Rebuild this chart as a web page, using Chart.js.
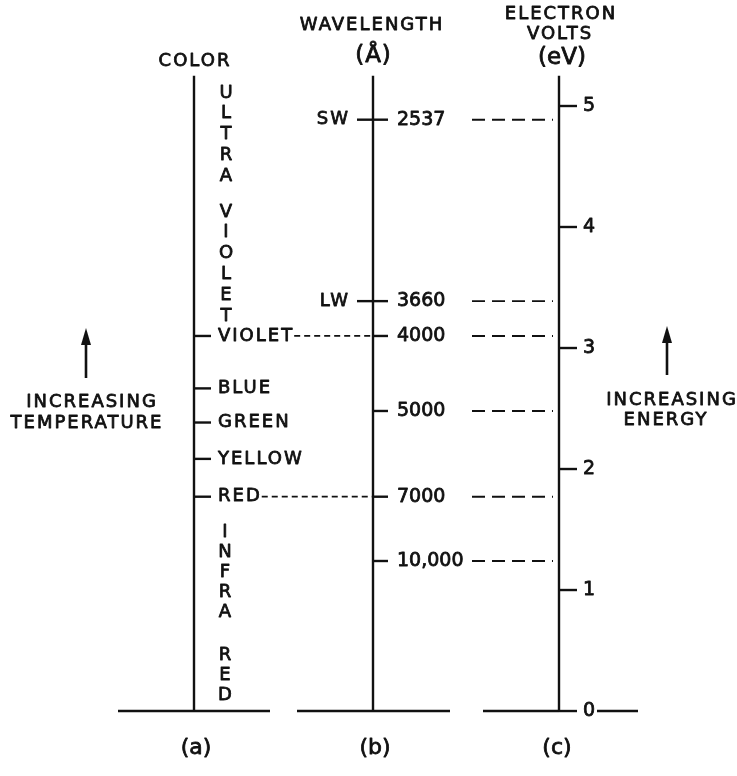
<!DOCTYPE html>
<html>
<head>
<meta charset="utf-8">
<script src="https://cdn.jsdelivr.net/npm/chart.js@4"></script>
<style>
  body { margin: 0; background: #fff; }
  #wrap { width: 737px; height: 776px; position: relative; }
</style>
</head>
<body>
<div id="wrap"><canvas id="spectrumChart"></canvas></div>
<script>
// values
const evTicks = [0, 1, 2, 3, 4, 5];
const wavelengths = [2537, 3660, 4000, 5000, 7000, 10000];
const wavelengthLabels = ["2537", "3660", "4000", "5000", "7000", "10,000"];
const lampNames = ["SW", "LW"];
const lampWavelengths = [2537, 3660];
const colorNames = ["VIOLET", "BLUE", "GREEN", "YELLOW", "RED"];
const colorWavelengths = [4000, 4650, 5200, 5950, 7000];
const linkedColors = ["VIOLET", "RED"];

const HC = 12398; // eV * Angstrom
const toEv = (lambda) => HC / lambda;

// layout (x in page pixels, y in eV)
const COL = { color: 194, wave: 373, ev: 559 };
const AXIS_TOP = 5.25;
const INK = "#111";
const FONT = "DejaVu Sans, Arial, sans-serif";
const labelFont = "18px " + FONT;

function seg(x1, y1, x2, y2, width = 2.4, dash = []) {
  return {
    data: [{ x: x1, y: y1 }, { x: x2, y: y2 }],
    showLine: true,
    borderColor: INK,
    borderWidth: width,
    borderDash: dash,
    pointRadius: 0,
    clip: false,
  };
}

// measure label ends so the fine dashes start right after the word
const measureCtx = document.createElement("canvas").getContext("2d");
measureCtx.font = labelFont;
measureCtx.letterSpacing = "2px";

const datasets = [];

// the three scales
datasets.push(seg(COL.color, 0, COL.color, AXIS_TOP));
datasets.push(seg(COL.wave, 0, COL.wave, AXIS_TOP));
datasets.push(seg(COL.ev, 0, COL.ev, AXIS_TOP));

// base lines
datasets.push(seg(118, 0, 270, 0));
datasets.push(seg(297, 0, 450, 0));
datasets.push(seg(483, 0, COL.ev, 0));
datasets.push(seg(597, 0, 638, 0));

// eV ticks
evTicks.forEach((v) => datasets.push(seg(COL.ev, v, COL.ev + 18, v)));

// wavelength ticks + dashed links to the eV scale
wavelengths.forEach((w) => {
  datasets.push(seg(COL.wave, toEv(w), COL.wave + 15, toEv(w)));
  datasets.push(seg(472, toEv(w), COL.ev - 6, toEv(w), 1.9, [13, 7]));
});
lampWavelengths.forEach((w) => {
  datasets.push(seg(COL.wave - 16, toEv(w), COL.wave, toEv(w)));
});

// color ticks
colorNames.forEach((name, i) => {
  const e = toEv(colorWavelengths[i]);
  datasets.push(seg(COL.color, e, COL.color + 17, e));
  if (linkedColors.includes(name)) {
    const end = COL.color + 24 + measureCtx.measureText(name).width;
    datasets.push(seg(end, e, COL.wave - 1, e, 1.7, [6, 4]));
  }
});

function text(ctx, str, x, y, opts = {}) {
  ctx.save();
  ctx.font = (opts.size || 18) + "px " + FONT;
  ctx.letterSpacing = (opts.spacing ?? 2) + "px";
  ctx.fillStyle = INK;
  ctx.strokeStyle = INK;
  ctx.lineWidth = 0.8;
  ctx.lineJoin = "round";
  ctx.textBaseline = "middle";
  ctx.textAlign = opts.align || "center";
  const shift = ctx.textAlign === "center" ? (opts.spacing ?? 2) / 2 : 0;
  ctx.fillText(str, x + shift, y);
  ctx.strokeText(str, x + shift, y);
  ctx.restore();
}

function verticalWord(ctx, word, x, yStart, step, gap) {
  let y = yStart;
  for (const ch of word) {
    if (ch === " ") { y += gap; continue; }
    text(ctx, ch, x, y, { spacing: 0 });
    y += step;
  }
}

function arrow(ctx, x, yTop, yBottom) {
  ctx.save();
  ctx.strokeStyle = INK;
  ctx.fillStyle = INK;
  ctx.lineWidth = 2.6;
  ctx.beginPath();
  ctx.moveTo(x, yBottom);
  ctx.lineTo(x, yTop + 10);
  ctx.stroke();
  ctx.beginPath();
  ctx.moveTo(x, yTop);
  ctx.lineTo(x - 5, yTop + 17);
  ctx.lineTo(x + 5, yTop + 17);
  ctx.closePath();
  ctx.fill();
  ctx.restore();
}

const labelsPlugin = {
  id: "labels",
  afterDraw(chart) {
    const ctx = chart.ctx;
    const xs = chart.scales.x;
    const ys = chart.scales.y;
    const px = (v) => xs.getPixelForValue(v);
    const py = (v) => ys.getPixelForValue(v);

    // headings
    text(ctx, "COLOR", px(COL.color), 61);
    text(ctx, "WAVELENGTH", px(COL.wave) - 2, 25);
    text(ctx, "(Å)", px(COL.wave), 56, { size: 23, spacing: 1 });
    text(ctx, "ELECTRON", px(COL.ev) + 1, 14);
    text(ctx, "VOLTS", px(COL.ev), 34);
    text(ctx, "(eV)", px(COL.ev) + 3, 58, { size: 23, spacing: 0 });

    // color scale
    verticalWord(ctx, "ULTRA VIOLET", px(COL.color) + 32, 93, 20.8, 15);
    verticalWord(ctx, "INFRA RED", px(COL.color) + 31, 532, 20, 23);
    colorNames.forEach((name, i) => {
      text(ctx, name, px(COL.color) + 24, py(toEv(colorWavelengths[i])), { align: "left" });
    });

    // wavelength scale
    wavelengths.forEach((w, i) => {
      text(ctx, wavelengthLabels[i], px(COL.wave) + 24, py(toEv(w)), { size: 19, spacing: 0, align: "left" });
    });
    lampNames.forEach((name, i) => {
      text(ctx, name, px(COL.wave) - 23, py(toEv(lampWavelengths[i])), { align: "right" });
    });

    // eV scale
    evTicks.forEach((v) => {
      text(ctx, String(v), px(COL.ev) + 30, py(v), { size: 19, spacing: 0 });
    });

    // side notes
    arrow(ctx, 86, 328, 378);
    text(ctx, "INCREASING", 91, 402);
    text(ctx, "TEMPERATURE", 86, 423);
    arrow(ctx, 667, 326, 375);
    text(ctx, "INCREASING", 671, 400);
    text(ctx, "ENERGY", 665, 420);

    // panel letters
    text(ctx, "(a)", px(COL.color) + 2, 748, { size: 22, spacing: 0 });
    text(ctx, "(b)", px(COL.wave) + 2, 748, { size: 22, spacing: 0 });
    text(ctx, "(c)", px(COL.ev) - 2, 748, { size: 22, spacing: 0 });
  },
};

new Chart(document.getElementById("spectrumChart"), {
  type: "scatter",
  data: { datasets },
  options: {
    responsive: true,
    maintainAspectRatio: false,
    animation: false,
    events: [],
    layout: { padding: 0 },
    plugins: { legend: { display: false }, tooltip: { enabled: false } },
    scales: {
      x: { type: "linear", display: false, min: 0, max: 737 },
      y: { type: "linear", display: false, min: -0.537, max: 5.876 },
    },
  },
  plugins: [labelsPlugin],
});
</script>
</body>
</html>
